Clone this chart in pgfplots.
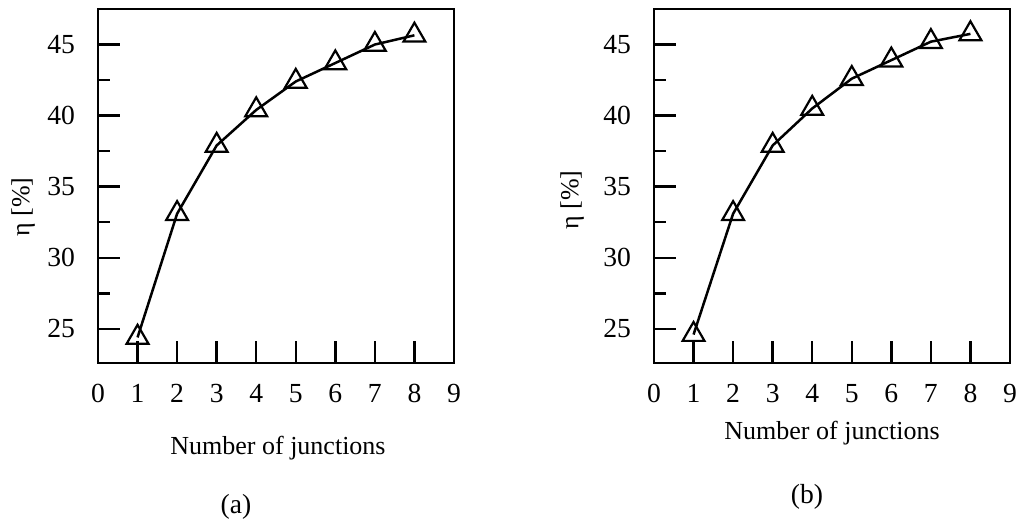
\documentclass[border=0pt]{standalone}
\usepackage{fontspec}
\setmainfont{Liberation Serif}
\usepackage{pgfplots}
\pgfplotsset{compat=1.18}

\newcommand{\figfont}{\fontsize{13.8}{16}\selectfont}
\newcommand{\labfont}{\fontsize{13}{15}\selectfont}

\pgfplotsset{
  junc/.style={
    scale only axis, width=178pt, height=177pt,
    xmin=0, xmax=9, ymin=22.6, ymax=47.5,
    xtick={0,...,9}, ytick={25,30,...,45},
    minor ytick={27.5,32.5,37.5,42.5},
    tick align=inside, xtick pos=bottom, ytick pos=left,
    major tick length=11pt, minor tick length=6pt,
    axis line style={line width=1.25pt},
    major tick style={black, line width=1.25pt},
    minor tick style={black, line width=1.25pt},
    tick label style={font=\figfont},
    /pgf/number format/assume math mode=true,
    xticklabel style={yshift=-7pt},
    yticklabel style={xshift=-8pt},
    clip=false,
  },
  juncline/.style={black, line width=1.25pt, mark=triangle,
    mark size=6.3pt, mark options={solid, fill=white, line width=1.1pt}},
}

\begin{document}
\begin{tikzpicture}
\path[use as bounding box] (0,0) rectangle (511.5pt,262pt);

% (a)
\begin{axis}[junc, at={(49pt,80.5pt)}, anchor=south west]
\addplot[juncline] coordinates {(1,24.4) (2,33.1) (3,37.9) (4,40.4) (5,42.4) (6,43.7) (7,45.0) (8,45.65)};
\end{axis}

% (b)
\begin{axis}[junc, at={(327pt,80.5pt)}, anchor=south west]
\addplot[juncline] coordinates {(1,24.6) (2,33.1) (3,37.9) (4,40.5) (5,42.6) (6,43.9) (7,45.2) (8,45.75)};
\end{axis}

\node[font=\labfont] at (139pt,38pt) {Number of junctions};
\node[font=\labfont] at (416pt,45.5pt) {Number of junctions};
\node[font=\figfont] at (118pt,8.5pt) {(a)};
\node[font=\figfont] at (403.5pt,13.5pt) {(b)};
\node[font=\labfont, rotate=90] at (11.5pt,158.5pt) {η [\%]};
\node[font=\labfont, rotate=90] at (286pt,162pt) {η [\%]};
\end{tikzpicture}
\end{document}
